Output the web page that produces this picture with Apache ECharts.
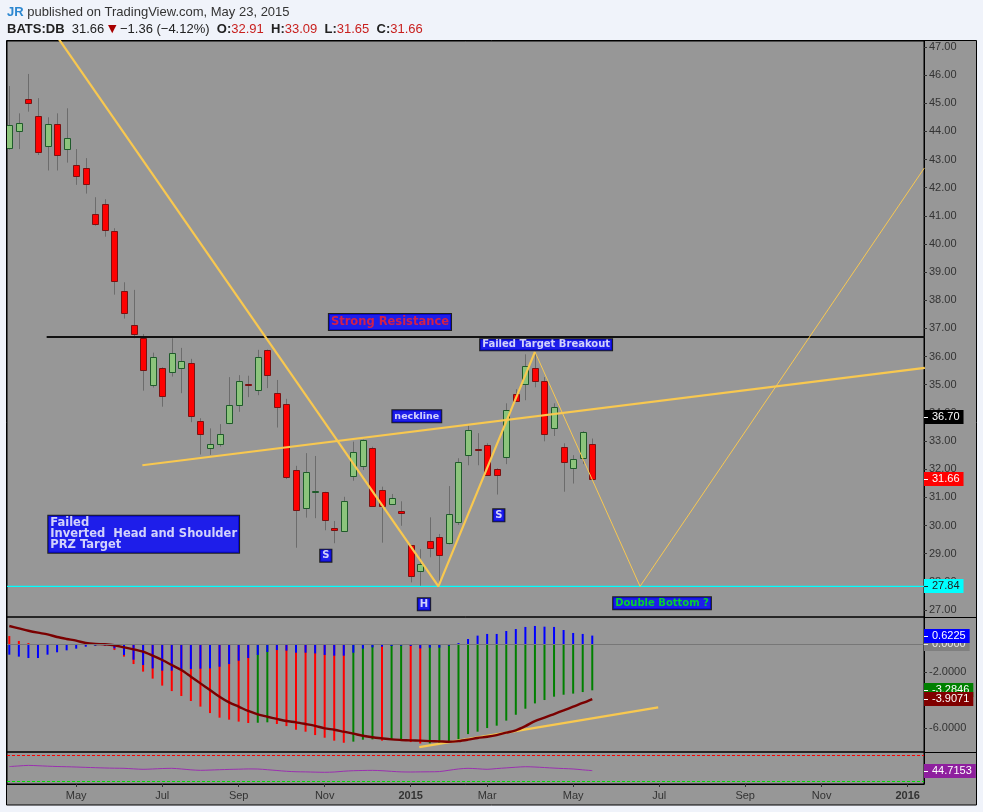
<!DOCTYPE html>
<html><head><meta charset="utf-8">
<script src="https://cdn.jsdelivr.net/npm/echarts@6/dist/echarts.min.js"></script>
<style>html,body{margin:0;padding:0;background:#f0f3fa;}#c{width:983px;height:812px;}</style>
</head><body><div id="c"></div><script>
// ---------------- DATA ----------------
const firstWeekUTC = [2014, 2, 17];   // week of Mar 17, 2014
const weekCount = 96;                 // visible weekly slots incl. future
const monthNames = ['Jan','Feb','Mar','Apr','May','Jun','Jul','Aug','Sep','Oct','Nov','Dec'];
const priceTicks = [27,28,29,30,31,32,33,34,35,36,37,38,39,40,41,42,43,44,45,46,47];
const macdTicks = [0,-2,-4,-6];

const opens  = [43.42,44.00,45.14,44.54,43.47,44.25,43.37,42.80,42.69,41.06,41.41,40.45,38.32,37.11,36.67,34.98,35.59,35.44,35.59,35.76,33.70,32.74,32.89,33.63,34.27,35.03,34.80,36.23,34.70,34.31,31.96,30.61,31.21,31.18,29.90,29.80,31.77,32.13,32.74,31.25,30.75,30.51,29.30,28.37,29.44,29.58,29.37,30.12,32.50,32.71,32.85,32.00,32.42,34.66,35.02,35.59,35.12,33.45,32.78,32.03,32.39,32.91];
const highs  = [45.61,44.64,46.04,45.18,44.50,44.64,44.82,43.37,43.05,41.66,41.59,40.56,38.64,38.37,36.80,36.14,35.62,36.65,36.31,35.92,33.81,33.45,33.60,35.27,35.34,35.32,36.24,36.25,35.17,34.50,32.12,32.57,32.47,31.20,30.16,31.02,32.98,33.05,32.80,31.38,31.12,30.86,29.30,29.16,30.29,29.70,31.40,32.39,33.55,33.28,32.92,32.03,34.34,34.84,36.08,36.15,35.27,34.34,32.92,32.50,33.35,33.09];
const lows   = [43.35,43.37,44.70,43.16,42.61,42.61,42.89,42.10,41.79,40.65,40.26,38.20,37.35,36.65,34.79,34.90,34.22,35.29,34.70,33.67,32.52,32.51,32.80,33.60,34.04,34.56,34.63,34.88,33.48,31.65,29.21,30.28,30.26,29.83,29.37,29.78,31.59,31.97,30.70,29.39,30.75,29.99,27.98,27.84,28.87,27.86,29.33,30.02,32.14,32.14,31.78,31.10,32.18,34.40,34.45,34.91,32.99,33.18,31.20,31.49,32.18,31.65];
const closes = [44.22,44.29,45.00,43.26,44.25,43.15,43.76,42.41,42.12,40.70,40.49,38.68,37.54,36.79,35.52,35.98,34.61,36.12,35.83,33.88,33.24,32.89,33.24,34.27,35.12,35.00,35.98,35.34,34.20,31.71,30.54,31.89,31.23,30.19,29.83,30.86,32.60,33.03,30.71,30.68,30.97,30.44,28.20,28.62,29.19,28.94,30.40,32.25,33.38,32.68,31.79,31.79,34.09,34.41,35.66,35.12,33.24,34.20,32.25,32.35,33.31,31.66];

const macdLine   = [0.59,0.24,0.09,-0.15,-0.03,-0.05,-0.03,-0.05,-0.08,-0.08,-0.10,-0.41,-0.88,-1.41,-1.95,-2.45,-2.95,-3.34,-3.69,-4.05,-4.45,-4.91,-5.24,-5.38,-5.52,-5.62,-5.60,-5.57,-5.69,-5.84,-6.10,-6.24,-6.48,-6.67,-6.88,-7.03,-6.95,-6.81,-6.79,-6.88,-6.79,-6.78,-6.98,-7.08,-7.07,-7.06,-6.95,-6.79,-6.41,-6.24,-5.98,-5.81,-5.45,-5.03,-4.60,-4.22,-3.98,-3.74,-3.60,-3.52,-3.41,-3.2846];
const macdHist   = [-0.74,-0.88,-0.98,-0.98,-0.74,-0.57,-0.43,-0.31,-0.17,-0.10,-0.08,-0.29,-0.76,-1.10,-1.48,-1.72,-1.88,-1.88,-1.79,-1.76,-1.74,-1.72,-1.60,-1.41,-1.17,-0.98,-0.76,-0.55,-0.41,-0.45,-0.60,-0.60,-0.65,-0.76,-0.81,-0.81,-0.60,-0.31,-0.22,-0.17,-0.12,-0.10,-0.12,-0.29,-0.24,-0.24,-0.10,0.09,0.38,0.62,0.74,0.74,0.95,1.09,1.24,1.31,1.26,1.24,1.02,0.81,0.74,0.6225];
const macdSignal = [1.31,1.14,0.97,0.83,0.71,0.52,0.38,0.26,0.09,0.02,0.00,-0.07,-0.22,-0.36,-0.53,-0.81,-1.12,-1.48,-1.84,-2.31,-2.79,-3.26,-3.74,-4.15,-4.45,-4.76,-5.00,-5.17,-5.33,-5.48,-5.57,-5.69,-5.82,-6.00,-6.10,-6.24,-6.38,-6.53,-6.64,-6.72,-6.79,-6.83,-6.86,-6.88,-6.91,-6.93,-6.96,-6.91,-6.81,-6.69,-6.60,-6.48,-6.31,-6.14,-5.84,-5.48,-5.24,-4.98,-4.72,-4.45,-4.19,-3.9071];
const rsiValues  = [54.0,55.5,56.8,56.0,55.0,54.2,53.7,53.0,52.2,51.5,50.8,50.3,50.0,48.8,47.7,48.5,49.5,50.0,48.5,46.5,45.4,46.0,46.8,47.5,48.0,48.6,48.4,46.8,45.0,43.2,42.1,41.8,41.2,40.8,41.5,43.3,44.5,45.0,45.3,44.5,43.0,41.8,41.5,41.8,42.0,42.5,45.5,48.5,50.0,49.0,47.7,49.5,51.0,52.5,53.7,53.0,51.8,50.5,49.5,48.5,46.5,44.7153];
const rsiBands = [80, 20];

// drawing-tool anchors [week index, price]
const supportLevel = 27.84;
const resistanceLevel = 36.70;
const resistanceLine = [[3.91, 36.70], [95.8, 36.70]];
const zigzagThick = [[3.71, 48.0], [44.9, 27.84], [55.0, 36.17]];
const zigzagThin  = [[55.0, 36.17], [66.0, 27.84], [95.75, 42.70]];
const necklineLine = [[13.92, 32.14], [95.8, 35.60]];
const macdTrendLine = [[42.9, -7.34], [67.9, -4.50]];
const annotations = [
  ['Strong Resistance', 39.83, 37.23],
  ['Failed Target Breakout', 56.17, 36.42],
  ['neckline', 42.64, 33.88],
  ['S', 33.12, 28.93],
  ['H', 43.39, 27.20],
  ['S', 51.22, 30.36],
  ['Double Bottom ?', 68.30, 27.24],
  ['Failed\nInverted  Head and Shoulder\nPRZ Target', 4.08, 29.69]
];
const resistanceBadgeAt = 33.86;

// ---------------- BUILD ----------------
const weeks = [];
const t0 = Date.UTC(firstWeekUTC[0], firstWeekUTC[1], firstWeekUTC[2]);
for (let i = 0; i < weekCount; i++) weeks.push(new Date(t0 + i * 7 * 86400000));
const monthTicks = [];
for (let i = 1; i < weeks.length; i++) {
  const m = weeks[i].getUTCMonth();
  if (m !== weeks[i - 1].getUTCMonth() && m % 2 === 0) monthTicks.push(i);
}
const candleData = opens.map((o, i) => [i, o, highs[i], lows[i], closes[i]]);
const idx = (arr) => arr.map((v, i) => [i, v]);
const last = closes.length - 1;

const XMIN = -0.24, XMAX = 95.71;
const FONT = '"Liberation Sans", Arial, sans-serif';
const AFONT = '"DejaVu Sans", Verdana, sans-serif';
const YEL = '#f8c850';

const annStyles = {
  'Strong Resistance': {color: '#ff2020', fontSize: 11.5, lineHeight: 14, padding: [1, 2]},
  'Failed Target Breakout': {color: '#ffffff', fontSize: 10, lineHeight: 11, padding: [0, 2]},
  'neckline': {color: '#ffffff', fontSize: 9.5, lineHeight: 12, padding: [0, 2]},
  'S': {color: '#ffffff', fontSize: 10, lineHeight: 12, padding: [0, 2]},
  'H': {color: '#ffffff', fontSize: 10, lineHeight: 12, padding: [0, 2]},
  'Double Bottom ?': {color: '#00ff00', fontSize: 10, lineHeight: 12, padding: [0, 2]},
};
const annData = annotations.map(a => {
  const st = annStyles[a[0]] || {color: '#ffffff', fontSize: 11.5, lineHeight: 11, padding: [2, 2], align: 'left'};
  return {value: [a[1], a[2]], label: Object.assign({formatter: a[0]}, st)};
});

const chart = echarts.init(document.getElementById('c'), null, {renderer: 'canvas', width: 983, height: 812});

const gridBase = {left: 7, width: 917, show: true, borderColor: '#000', borderWidth: 1, backgroundColor: 'transparent', containLabel: false, outerBoundsMode: 'none'};
const hiddenX = (gi) => ({type: 'value', gridIndex: gi, min: XMIN, max: XMAX, show: false, splitLine: {show: false}, axisLine: {onZero: false}});
const yBase = {type: 'value', position: 'right', splitLine: {show: false}, axisLine: {show: true, onZero: false, lineStyle: {color: '#000'}}};

const option = {
  animation: false,
  backgroundColor: '#f0f3fa',
  grid: [
    Object.assign({top: 41, height: 576}, gridBase),
    Object.assign({top: 617, height: 135}, gridBase),
    Object.assign({top: 752, height: 32}, gridBase)
  ],
  xAxis: [hiddenX(0), hiddenX(1), {
    type: 'value', gridIndex: 2, min: XMIN, max: XMAX,
    splitLine: {show: false},
    axisLine: {show: true, onZero: false, lineStyle: {color: '#000'}},
    axisTick: {show: true, customValues: monthTicks, length: 3, lineStyle: {color: '#333'}},
    axisLabel: {
      customValues: monthTicks, margin: 6, color: '#333', fontSize: 11, fontFamily: FONT,
      formatter: (v) => { const d = weeks[Math.round(v)]; const m = d.getUTCMonth(); return m === 0 ? '{y|' + d.getUTCFullYear() + '}' : monthNames[m]; },
      rich: {y: {fontWeight: 'bold', fontSize: 11, fontFamily: FONT, color: '#333'}}
    }
  }],
  yAxis: [
    Object.assign({gridIndex: 0, min: 26.75, max: 47.21,
     axisTick: {show: true, customValues: priceTicks, length: 3, lineStyle: {color: '#333'}},
     axisLabel: {customValues: priceTicks, margin: 5, color: '#333', fontSize: 11, fontFamily: FONT, formatter: v => v.toFixed(2)}}, yBase),
    Object.assign({gridIndex: 1, min: -7.69, max: 1.95,
     axisTick: {show: true, customValues: macdTicks, length: 3, lineStyle: {color: '#333'}},
     axisLabel: {customValues: macdTicks, margin: 5, color: '#333', fontSize: 11, fontFamily: FONT, formatter: v => v.toFixed(4)}}, yBase),
    Object.assign({gridIndex: 2, min: 13.8, max: 87.7,
     axisTick: {show: false}, axisLabel: {show: false}}, yBase)
  ],
  graphic: {elements: [
    {type: 'rect', id: 'frame', z: -10, silent: true, shape: {x: 6.5, y: 40.5, width: 970, height: 764.5}, style: {fill: '#979797', stroke: '#000', lineWidth: 1}},
    {type: 'line', id: 'sep1', z: 5, silent: true, shape: {x1: 924, y1: 617.5, x2: 976, y2: 617.5}, style: {stroke: '#000', lineWidth: 1}},
    {type: 'line', id: 'sep2', z: 5, silent: true, shape: {x1: 924, y1: 752.5, x2: 976, y2: 752.5}, style: {stroke: '#000', lineWidth: 1}},
    {type: 'text', id: 'hdr1', z: 100, x: 7, y: 12, style: {
      text: '{jr|JR} published on TradingView.com, May 23, 2015', font: '13px ' + FONT, fill: '#333', verticalAlign: 'middle',
      rich: {jr: {fill: '#2c87d0', fontWeight: 'bold', fontSize: 13, fontFamily: FONT}}}},
    {type: 'text', id: 'hdr2', z: 100, x: 7, y: 29, style: {
      text: '{b|BATS:DB}  ' + closes[last].toFixed(2) + ' {t|▼} −1.36 (−4.12%)  {b|O:}{r|' + opens[last].toFixed(2) + '}  {b|H:}{r|' + highs[last].toFixed(2) + '}  {b|L:}{r|' + lows[last].toFixed(2) + '}  {b|C:}{r|' + closes[last].toFixed(2) + '}',
      font: '13px ' + FONT, fill: '#222', verticalAlign: 'middle',
      rich: {
        b: {fontWeight: 'bold', fontSize: 13, fontFamily: FONT, fill: '#222'},
        r: {fontSize: 13, fontFamily: FONT, fill: '#c8201e'},
        t: {fontSize: 11, fontFamily: '"DejaVu Sans"', fill: '#a80000'}
      }}}
  ]},
  series: [
    {
      type: 'custom', name: 'candles', xAxisIndex: 0, yAxisIndex: 0, silent: true, clip: true,
      data: candleData, encode: {x: 0, y: [1, 2, 3, 4]},
      renderItem: function (params, api) {
        const x = api.value(0), o = api.value(1), h = api.value(2), l = api.value(3), c = api.value(4);
        const pO = api.coord([x, o]), pC = api.coord([x, c]), pH = api.coord([x, h]), pL = api.coord([x, l]);
        const up = c >= o;
        const cx = Math.round(pO[0]) + 0.5;
        const top = Math.round(Math.min(pO[1], pC[1])) + 0.5;
        const bot = Math.round(Math.max(pO[1], pC[1])) + 0.5;
        return {type: 'group', children: [
          {type: 'line', shape: {x1: cx, y1: pH[1], x2: cx, y2: pL[1]}, style: {stroke: '#6c6c6c', lineWidth: 1}},
          {type: 'rect', shape: {x: cx - 3, y: top, width: 6, height: Math.max(bot - top, 1)},
           style: {fill: up ? '#8cc47c' : '#ff0000', stroke: up ? '#1f5a2b' : '#7a1212', lineWidth: 1}}
        ]};
      }
    },
    {type: 'line', name: 'support', xAxisIndex: 0, yAxisIndex: 0, silent: true, symbol: 'none',
     data: [[XMIN, supportLevel], [XMAX, supportLevel]], lineStyle: {color: '#00ffff', width: 1.2}},
    {type: 'line', name: 'resistance', xAxisIndex: 0, yAxisIndex: 0, silent: true, symbol: 'none',
     data: resistanceLine, lineStyle: {color: '#111', width: 2}},
    {type: 'line', name: 'zigzag1', xAxisIndex: 0, yAxisIndex: 0, silent: true, symbol: 'none', clip: true,
     data: zigzagThick, lineStyle: {color: YEL, width: 2.2}},
    {type: 'line', name: 'zigzag2', xAxisIndex: 0, yAxisIndex: 0, silent: true, symbol: 'none', clip: true,
     data: zigzagThin, lineStyle: {color: YEL, width: 1}},
    {type: 'line', name: 'neckline', xAxisIndex: 0, yAxisIndex: 0, silent: true, symbol: 'none', clip: true,
     data: necklineLine, lineStyle: {color: YEL, width: 2.2}},
    {type: 'scatter', name: 'notes', xAxisIndex: 0, yAxisIndex: 0, silent: true, symbolSize: 0, z: 10,
     data: annData,
     label: {show: true, position: 'inside', fontFamily: AFONT, fontWeight: 'bold',
             backgroundColor: '#0000ff', borderColor: '#000', borderWidth: 1}},
    {type: 'bar', name: 'macd', xAxisIndex: 1, yAxisIndex: 1, silent: true, barWidth: 2, barGap: '-100%',
     data: idx(macdLine),
     itemStyle: {color: (p) => (p.dataIndex > 0 && macdLine[p.dataIndex] >= macdLine[p.dataIndex - 1]) ? '#008000' : '#ff0000'}},
    {type: 'bar', name: 'hist', xAxisIndex: 1, yAxisIndex: 1, silent: true, barWidth: 2, barGap: '-100%',
     data: idx(macdHist), itemStyle: {color: '#0000ff'}},
    {type: 'line', name: 'macdTrend', xAxisIndex: 1, yAxisIndex: 1, silent: true, symbol: 'none',
     data: macdTrendLine, lineStyle: {color: YEL, width: 2.2}},
    {type: 'line', name: 'signal', xAxisIndex: 1, yAxisIndex: 1, silent: true, symbol: 'none', smooth: 0.3,
     data: idx(macdSignal), lineStyle: {color: '#7a0000', width: 2.4},
     markLine: {silent: true, symbol: 'none', label: {show: false}, lineStyle: {color: '#777', type: 'solid', width: 1},
                data: [{yAxis: 0}]}},
    {type: 'line', name: 'rsi', xAxisIndex: 2, yAxisIndex: 2, silent: true, symbol: 'none', smooth: 0.3,
     data: idx(rsiValues), lineStyle: {color: '#9b2fb0', width: 1},
     markLine: {silent: true, symbol: 'none', label: {show: false},
                data: [{yAxis: rsiBands[0], lineStyle: {color: '#ff0000', type: [3, 2], width: 1}},
                       {yAxis: rsiBands[1], lineStyle: {color: '#00e000', type: [3, 2], width: 1}}]}}
  ]
};
chart.setOption(option);

// axis value badges
const badges = [
  [0, resistanceBadgeAt, resistanceLevel.toFixed(2), '#000000', '#ffffff'],
  [0, closes[last], closes[last].toFixed(2), '#ff0000', '#ffffff'],
  [0, supportLevel, supportLevel.toFixed(2), '#00ffff', '#222222'],
  [1, 0, (0).toFixed(4), '#7f7f7f', '#e8e8e8'],
  [1, macdHist[last], macdHist[last].toFixed(4), '#0000ff', '#ffffff'],
  [1, macdLine[last], macdLine[last].toFixed(4), '#008000', '#ffffff'],
  [1, macdSignal[last], macdSignal[last].toFixed(4), '#800000', '#ffffff'],
  [2, rsiValues[last], rsiValues[last].toFixed(4), '#8e1f9e', '#ffffff']
];
const els = [];
badges.forEach((b, k) => {
  const y = Math.round(chart.convertToPixel({yAxisIndex: b[0]}, b[1]));
  els.push({type: 'text', id: 'bdg' + k, z: 200 + k, x: 924, y: y, silent: true,
    style: {text: b[2], fill: b[4], backgroundColor: b[3], padding: [2, 4, 1, 8], font: '11px ' + FONT, verticalAlign: 'middle', align: 'left'}});
  els.push({type: 'line', id: 'bdt' + k, z: 200 + k, silent: true, shape: {x1: 924, y1: y + 0.5, x2: 928, y2: y + 0.5}, style: {stroke: b[4], lineWidth: 1}});
});
chart.setOption({graphic: {elements: els}});
</script></body></html>
